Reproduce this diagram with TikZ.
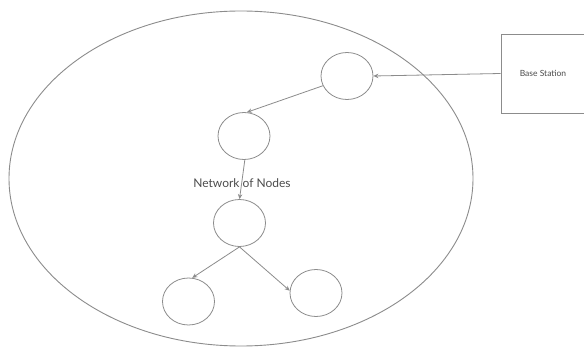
\documentclass[tikz,border=0pt]{standalone}
\usepackage{fontspec}
\setmainfont{Lato}
\usetikzlibrary{shapes.geometric,arrows.meta}
\definecolor{linegray}{gray}{0.55}
\definecolor{textgray}{gray}{0.3}
\begin{document}
\begin{tikzpicture}[x=1pt,y=-1pt,
  sensor/.style={ellipse,draw=linegray,line width=0.8pt,minimum width=52pt,minimum height=47pt,inner sep=0pt},
  link/.style={draw=linegray,line width=0.8pt,-{Stealth[length=5pt,width=4.5pt]}},
  stationbox/.style={rectangle,draw=linegray,line width=0.9pt,minimum width=84pt,minimum height=79pt,inner sep=0pt,text=textgray,font=\fontsize{8.5}{10}\selectfont}]
  \useasboundingbox (0,0) rectangle (584,350);
  \fill[white] (0,0) rectangle (584,350);
  % field containing the sensor network
  \draw[linegray,line width=0.9pt] (241,178.5) ellipse [x radius=232pt, y radius=167.5pt];
  % sensor nodes
  \node[sensor] (top) at (347,76) {};
  \node[sensor] (n2) at (244,136) {};
  \node[sensor] (n3) at (239.5,223) {};
  \node[sensor] (bl) at (188.5,301.5) {};
  \node[sensor] (br) at (316,293) {};
  \node[text=textgray,font=\fontsize{12}{14}\selectfont] (label) at (242,183) {Network of Nodes};
  % base station
  \node[stationbox] (bs) at (543,73.5) {Base Station};
  % links
  \draw[link] (bs.west) -- (top.east);
  \draw[link] (top.202) -- (n2.83);
  \draw[link] (n2.272) -- (n3.90);
  \draw[link] (n3.270) -- (bl.81);
  \draw[link] (n3.270) -- (br.175);
\end{tikzpicture}
\end{document}
